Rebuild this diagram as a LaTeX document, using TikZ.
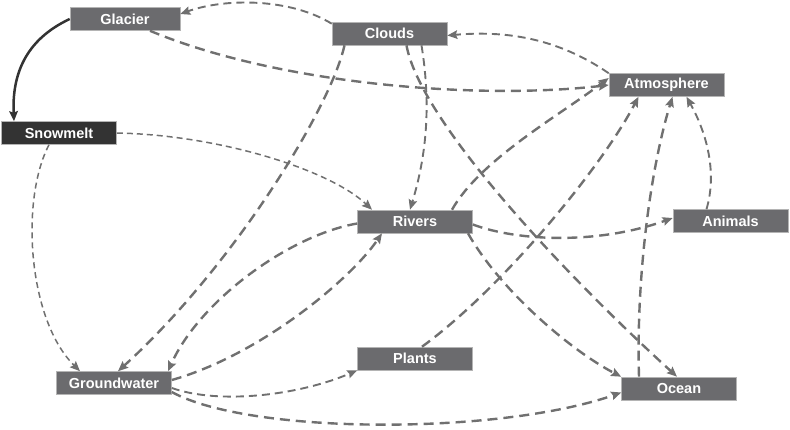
\documentclass[tikz,border=0pt]{standalone}
\usepackage{fontspec}
\setmainfont{Liberation Sans}
\usetikzlibrary{arrows.meta}
\definecolor{boxgray}{HTML}{6B6B6E}
\definecolor{boxedge}{HTML}{B4B4B4}
\definecolor{linkgray}{HTML}{707070}
\definecolor{darkbox}{HTML}{333333}
\tikzset{
  box/.style={draw=boxedge, line width=0.6pt, fill=boxgray, text=white,
    font=\fontsize{14.5}{16}\selectfont\bfseries, minimum width=115pt,
    minimum height=23pt, inner sep=0pt},
  darkbox/.style={box, fill=darkbox},
  tip/.style={-{Stealth[length=10pt,width=8.5pt,inset=1.5pt]}},
  link/.style={tip, draw=linkgray, line width=2.4pt, dash pattern=on 10pt off 6pt},
  linkmid/.style={tip, draw=linkgray, line width=1.9pt, dash pattern=on 8pt off 5pt},
  linkthin/.style={tip, draw=linkgray, line width=1.5pt, dash pattern=on 6pt off 4pt},
  solidlink/.style={tip, draw=darkbox, line width=2.5pt}
}
\begin{document}
\begin{tikzpicture}[x=1pt,y=-1pt]
\useasboundingbox (0,0) rectangle (790,429);
\node[box, minimum width=110pt] (glacier) at (125,19) {Glacier};
\node[box] (clouds) at (389.5,33.5) {Clouds};
\node[darkbox] (snowmelt) at (59,133) {Snowmelt};
\node[box] (atmos) at (666.5,85) {Atmosphere};
\node[box] (animals) at (730.5,221) {Animals};
\node[box] (rivers) at (415,221.5) {Rivers};
\node[box] (plants) at (415,358.5) {Plants};
\node[box] (ocean) at (679,388.5) {Ocean};
\node[box] (ground) at (114,383) {Groundwater};

% Glacier -> Snowmelt
\draw[solidlink] (glacier.west) .. controls (25,40) and (12,75) .. ([xshift=-45pt]snowmelt.north);
% Clouds -> Glacier
\draw[linkmid] ([yshift=-2pt]clouds.north west) .. controls (290,-2) and (225,-2) .. ([yshift=5pt]glacier.east);
% Glacier -> Atmosphere
\draw[link] ([xshift=25pt]glacier.south) .. controls (280,85) and (480,100) .. (atmos.west);
% Atmosphere -> Clouds
\draw[linkmid] (atmos.north west) .. controls (560,40) and (510,30) .. ([yshift=-2pt]clouds.east);
% Clouds -> Groundwater
\draw[link] ([xshift=-45pt]clouds.south) .. controls (330,110) and (230,270) .. ([xshift=4pt]ground.north);
% Clouds -> Rivers
\draw[linkmid] ([xshift=32pt]clouds.south) .. controls (432,110) and (425,160) .. ([xshift=-5pt]rivers.north);
% Clouds -> Ocean
\draw[link] ([xshift=17pt]clouds.south) .. controls (420,120) and (560,270) .. ([xshift=-2pt]ocean.north);
% Rivers -> Ocean
\draw[link] ([xshift=53pt]rivers.south) .. controls (500,290) and (570,350) .. (ocean.north west);
% Rivers -> Animals
\draw[link] ([yshift=-3pt]rivers.east) .. controls (520,242) and (600,244) .. ([yshift=3pt]animals.west);
% Rivers -> Atmosphere
\draw[link] ([xshift=37pt]rivers.north) .. controls (480,160) and (560,115) .. ([yshift=7pt]atmos.west);
% Snowmelt -> Rivers
\draw[linkthin] (snowmelt.east) .. controls (220,135) and (330,170) .. ([xshift=-43pt]rivers.north);
% Snowmelt -> Groundwater
\draw[linkthin] ([xshift=-10pt]snowmelt.south) .. controls (20,200) and (28,320) .. ([xshift=-34pt]ground.north);
% Rivers -> Groundwater
\draw[link] ([yshift=-2pt]rivers.west) .. controls (290,235) and (200,300) .. ([xshift=54pt]ground.north);
% Groundwater -> Rivers
\draw[link] ([yshift=3pt]ground.east) .. controls (260,355) and (350,280) .. ([xshift=-33pt]rivers.south);
% Groundwater -> Plants
\draw[linkmid] ([yshift=-5pt]ground.east) .. controls (220,405) and (300,395) .. (plants.south west);
% Groundwater -> Ocean
\draw[link] ([yshift=-9pt]ground.east) .. controls (250,435) and (500,435) .. ([yshift=-4pt]ocean.west);
% Plants -> Atmosphere
\draw[link] ([xshift=7pt]plants.north) .. controls (500,290) and (600,170) .. ([xshift=-28pt]atmos.south);
% Ocean -> Atmosphere
\draw[link] ([xshift=-40pt]ocean.north) .. controls (636,280) and (650,170) .. ([xshift=6pt]atmos.south);
% Animals -> Atmosphere
\draw[linkmid] ([xshift=-24pt]animals.north) .. controls (718,170) and (705,130) .. ([xshift=20pt]atmos.south);
\end{tikzpicture}
\end{document}
